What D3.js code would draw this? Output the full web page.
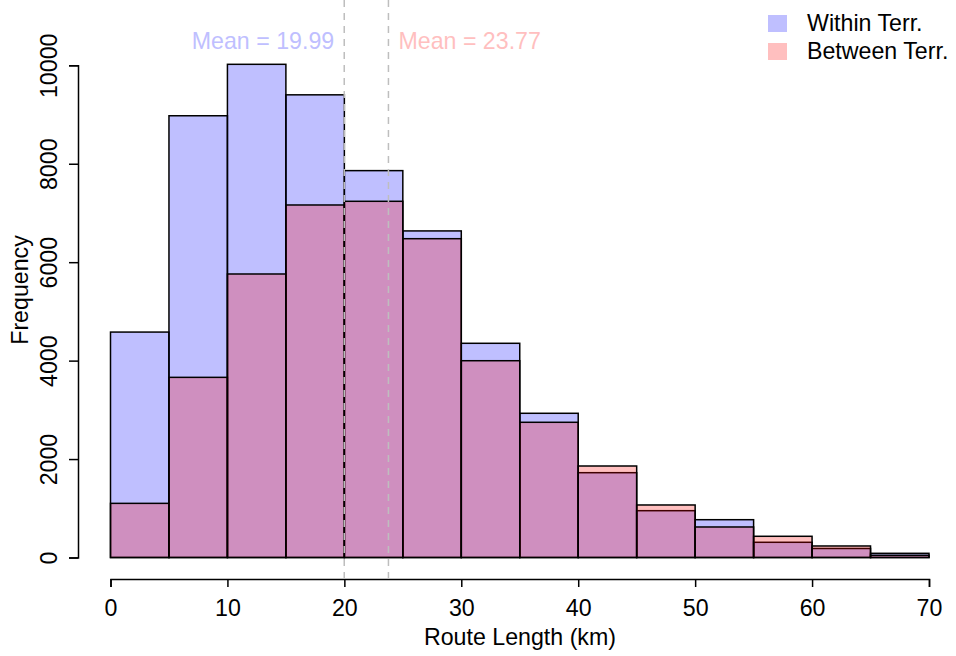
<!DOCTYPE html>
<html>
<head>
<meta charset="utf-8">
<script src="https://cdn.jsdelivr.net/npm/d3@7"></script>
<style>
    body { margin: 0; background: #fff; }
    text { font-family: "Liberation Sans", Arial, sans-serif; }
</style>
</head>
<body>
<div id="chart"></div>
<script>
// bin edges (km) and counts
const binEdges = [0, 5, 10, 15, 20, 25, 30, 35, 40, 45, 50, 55, 60, 65, 70];
const withinCounts = [4580, 8975, 10020, 9400, 7860, 6635, 4352, 2930, 1723, 951, 768, 309, 183, 85];
const betweenCounts = [1100, 3660, 5760, 7162, 7237, 6477, 3998, 2747, 1859, 1067, 620, 431, 234, 45];
const seriesNames = ["Within Terr.", "Between Terr."];
const seriesMeans = [19.99, 23.77];
const xTicks = [0, 10, 20, 30, 40, 50, 60, 70];
const yTicks = [0, 2000, 4000, 6000, 8000, 10000];

const svgWidth = 956;
const svgHeight = 656;
const fills = ["rgba(0,0,255,0.25)", "rgba(255,0,0,0.25)"];
const textCols = ["#bfbfff", "#ffbfbf"];
const fontSize = 23.2;

const svg = d3.select("#chart")
    .append("svg")
    .attr("width", svgWidth)
    .attr("height", svgHeight);

const xScale = d3.scaleLinear()
    .domain([0, 70])
    .range([110.5, 929]);

const yScale = d3.scaleLinear()
    .domain([0, 10000])
    .range([557.5, 65.3]);

const toBins = counts => counts.map((c, i) => ({x0: binEdges[i], x1: binEdges[i + 1], n: c}));

[withinCounts, betweenCounts].forEach((counts, k) => {
    svg.append("g")
        .selectAll("rect")
        .data(toBins(counts))
        .enter()
        .append("rect")
        .attr("x", d => xScale(d.x0))
        .attr("y", d => yScale(d.n))
        .attr("width", d => xScale(d.x1) - xScale(d.x0))
        .attr("height", d => yScale(0) - yScale(d.n))
        .style("fill", fills[k])
        .style("stroke", "#000")
        .style("stroke-width", 1.5);
});

// mean lines
svg.selectAll(".meanLine")
    .data(seriesMeans)
    .enter()
    .append("line")
    .attr("class", "meanLine")
    .attr("x1", d => xScale(d))
    .attr("x2", d => xScale(d))
    .attr("y1", 0)
    .attr("y2", 578)
    .style("stroke", "#bebebe")
    .style("stroke-width", 1.5)
    .style("stroke-dasharray", "7,6");

svg.selectAll(".meanText")
    .data(seriesMeans)
    .enter()
    .append("text")
    .attr("class", "meanText")
    .attr("x", (d, i) => xScale(d) + (i === 0 ? -10 : 10))
    .attr("y", 49)
    .attr("text-anchor", (d, i) => i === 0 ? "end" : "start")
    .attr("font-size", fontSize)
    .style("fill", (d, i) => textCols[i])
    .text(d => `Mean = ${d.toFixed(2)}`);

// axes
const xAxis = d3.axisBottom(xScale)
    .tickValues(xTicks)
    .tickSizeOuter(0)
    .tickSize(8)
    .tickPadding(13);

const xg = svg.append("g")
    .attr("transform", "translate(0, 579)")
    .call(xAxis);
xg.selectAll("text")
    .attr("font-size", fontSize)
    .style("font-family", "Liberation Sans, Arial, sans-serif");

const yAxis = d3.axisLeft(yScale)
    .tickValues(yTicks)
    .tickSizeOuter(0)
    .tickSize(9)
    .tickFormat(d3.format("d"));

const yg = svg.append("g")
    .attr("transform", "translate(78, 0)")
    .call(yAxis);
yg.selectAll("text")
    .attr("x", 0)
    .attr("y", 0)
    .attr("dy", 0)
    .attr("text-anchor", "middle")
    .attr("transform", "translate(-21, 0) rotate(-90)")
    .attr("font-size", fontSize)
    .style("font-family", "Liberation Sans, Arial, sans-serif");

[xg, yg].forEach(g => {
    g.selectAll("path, line").style("stroke", "#000").style("stroke-width", 1.5);
});

svg.append("text")
    .attr("x", 520)
    .attr("y", 645)
    .attr("text-anchor", "middle")
    .attr("font-size", fontSize)
    .text("Route Length (km)");

svg.append("text")
    .attr("transform", "translate(28, 290) rotate(-90)")
    .attr("text-anchor", "middle")
    .attr("font-size", fontSize)
    .text("Frequency");

// legend
const legend = svg.append("g")
    .attr("transform", "translate(768, 15)");

legend.selectAll("rect")
    .data(seriesNames)
    .enter()
    .append("rect")
    .attr("x", 0)
    .attr("y", (d, i) => i * 28)
    .attr("width", 19)
    .attr("height", 17)
    .style("fill", (d, i) => textCols[i]);

legend.selectAll("text")
    .data(seriesNames)
    .enter()
    .append("text")
    .attr("x", 39)
    .attr("y", (d, i) => 16 + i * 28)
    .attr("font-size", fontSize)
    .text(d => d);
</script>
</body>
</html>
